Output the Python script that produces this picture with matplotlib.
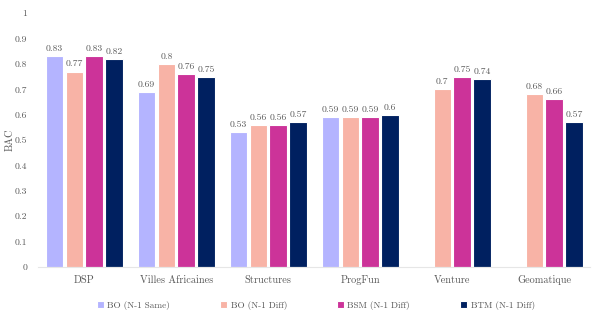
import numpy as np
import matplotlib.pyplot as plt

categories = ["DSP", "Villes Africaines", "Structures", "ProgFun", "Venture", "Geomatique"]
series_names = ["BO (N-1 Same)", "BO (N-1 Diff)", "BSM (N-1 Diff)", "BTM (N-1 Diff)"]
bo_same = [0.83, 0.69, 0.53, 0.59, np.nan, np.nan]
bo_diff = [0.77, 0.80, 0.56, 0.59, 0.70, 0.68]
bsm_diff = [0.83, 0.76, 0.56, 0.59, 0.75, 0.66]
btm_diff = [0.82, 0.75, 0.57, 0.60, 0.74, 0.57]
yticks = [0, 0.1, 0.2, 0.3, 0.4, 0.5, 0.6, 0.7, 0.8, 0.9, 1]

colors = ["#b4b4ff", "#f8b3a6", "#cc3399", "#002060"]
gray = "#595959"

plt.rcParams['font.family'] = ['cmr10', 'DejaVu Serif']
plt.rcParams['axes.formatter.use_mathtext'] = True

fig = plt.figure(figsize=(5.98, 3.13), dpi=100)
ax = fig.add_axes([0.064, 0.147, 0.923, 0.811])

x = np.arange(len(categories))
step = 0.215
width = 0.19
for i, (vals, name) in enumerate(zip([bo_same, bo_diff, bsm_diff, btm_diff], series_names)):
    pos = x + (i - 1.5) * step
    bars = ax.bar(pos, vals, width, color=colors[i], edgecolor="white", linewidth=0.8, label=name)
    for p, v in zip(pos, vals):
        if np.isnan(v):
            continue
        ax.text(p, v + 0.012, "{:g}".format(v), ha="center", va="bottom", fontsize=7, color=gray)

ax.set_xlim(-0.5, len(categories) - 0.5)
ax.set_ylim(0, 1)
ax.set_yticks(yticks)
ax.set_yticklabels(["{:g}".format(t) for t in yticks])
ax.set_xticks(x)
ax.set_xticklabels(categories)
ax.tick_params(axis="y", length=0, labelsize=7, colors=gray, pad=8)
ax.tick_params(axis="x", length=0, labelsize=7.4, colors=gray, pad=6)
ax.set_ylabel("BAC", fontsize=7.4, color=gray)
ax.yaxis.set_label_coords(-0.042, 0.5)
for s in ["top", "right", "left"]:
    ax.spines[s].set_visible(False)
ax.spines["bottom"].set_color("#e6e6e6")

ax.legend(loc="upper center", bbox_to_anchor=(0.503, -0.1), ncol=4, frameon=False,
          fontsize=6.6, labelcolor=gray, handlelength=0.7, handleheight=0.7,
          handletextpad=0.4, columnspacing=5.5)

fig.savefig("out.png", dpi=100)
